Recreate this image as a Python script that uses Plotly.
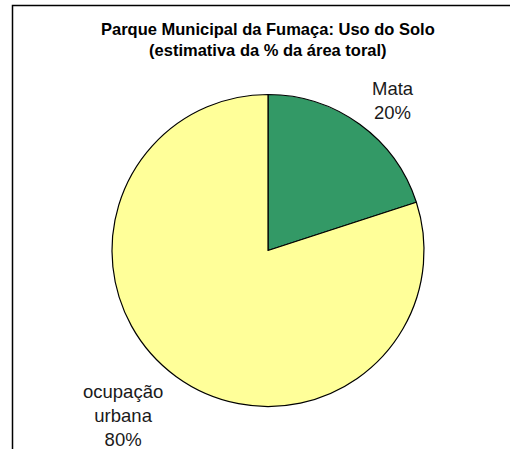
import plotly.graph_objects as go

labels = ["Mata", "ocupação<br>urbana"]
values = [20, 80]
colors = ["#339966", "#FFFF99"]
title_lines = ["Parque Municipal da Fumaça: Uso do Solo", "(estimativa da % da área toral)"]

W, H = 510, 449
fig = go.Figure()
fig.add_trace(go.Pie(
    labels=labels,
    values=values,
    sort=False,
    direction="clockwise",
    rotation=0,
    marker=dict(colors=colors, line=dict(color="black", width=1.2)),
    textinfo="none",
    hoverinfo="label+percent",
    showlegend=False,
    domain=dict(x=[112 / W, 424 / W], y=[1 - 406.5 / H, 1 - 94.5 / H]),
))

total = sum(values)
label_pos = [(393, 100), (123, 415)]
for lab, v, (px, py) in zip(labels, values, label_pos):
    fig.add_annotation(
        x=px / W, y=1 - py / H, xref="paper", yref="paper",
        text=f"{lab}<br>{round(100 * v / total)}%",
        showarrow=False, xanchor="center", yanchor="middle",
        font=dict(family="Liberation Sans, Arial, sans-serif", size=18.5, color="#1a1a1a"),
    )

fig.add_annotation(
    x=268 / W, y=1 - 40 / H, xref="paper", yref="paper",
    text="<b>" + "<br>".join(title_lines) + "</b>",
    showarrow=False, xanchor="center", yanchor="middle",
    font=dict(family="Liberation Sans, Arial, sans-serif", size=16.5, color="black"),
)

fig.add_shape(type="rect", xref="paper", yref="paper",
              x0=12.5 / W, x1=1.2, y0=-0.2, y1=1 - 5.5 / H,
              line=dict(color="black", width=1.5))

fig.update_layout(
    width=W, height=H,
    margin=dict(l=0, r=0, t=0, b=0),
    paper_bgcolor="white", plot_bgcolor="white",
)
fig.write_html("out.html", config={"displayModeBar": False},
               post_script="document.body.style.margin='0';")
